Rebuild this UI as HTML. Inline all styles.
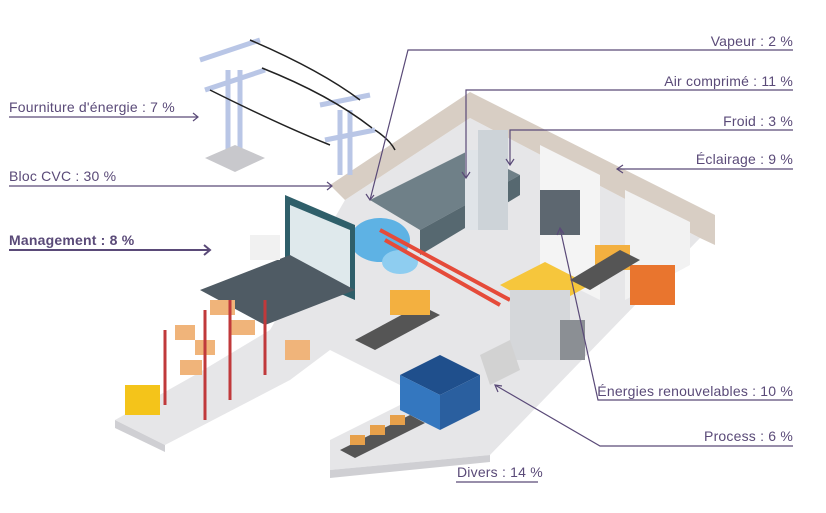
<!DOCTYPE html>
<html><head><meta charset="utf-8"><style>
html,body{margin:0;padding:0;background:#fff;width:826px;height:513px;overflow:hidden}
svg{position:absolute;left:0;top:0}
text{font-family:"Liberation Sans",sans-serif;font-size:14px;fill:#5a4a78;letter-spacing:0.2px}
</style></head><body>
<svg width="826" height="513" viewBox="0 0 826 513">
<polygon points="345,200 470,118 700,238 490,455 330,470 330,440 420,395 330,350 290,380 165,445 115,420 195,375 270,330" fill="#e6e6e8"/>
<polygon points="115,420 165,445 165,452 115,428" fill="#cfcfd3"/>
<polygon points="330,470 490,455 490,462 330,478" fill="#cfcfd3"/>
<polygon points="330,185 470,92 715,215 715,245 700,238 470,118 345,200" fill="#d8cec4"/>
<polygon points="540,145 600,175 600,300 540,270" fill="#f4f4f4"/>
<polygon points="625,190 690,222 690,265 625,300" fill="#f2f2f2"/>
<g stroke="#b9c6e6" stroke-width="5" fill="none">
<line x1="228" y1="70" x2="228" y2="155"/><line x1="240" y1="70" x2="240" y2="155"/>
<line x1="200" y1="60" x2="260" y2="40"/><line x1="205" y1="90" x2="265" y2="70"/>
<line x1="340" y1="110" x2="340" y2="175"/><line x1="350" y1="110" x2="350" y2="175"/>
<line x1="320" y1="105" x2="370" y2="95"/><line x1="325" y1="140" x2="375" y2="130"/>
</g>
<polygon points="205,158 235,145 265,158 235,172" fill="#c8c8cc"/>
<g stroke="#222" stroke-width="1.5" fill="none">
<path d="M250,40 Q320,70 360,100"/><path d="M262,68 Q330,95 372,128"/><path d="M210,90 Q280,125 330,145"/><path d="M375,130 Q390,140 395,150"/>
</g>
<polygon points="370,200 470,150 520,175 420,230" fill="#6f8088"/>
<polygon points="420,230 520,175 520,195 420,255" fill="#566870"/>
<rect x="465" y="150" width="40" height="80" fill="#e0e4e8"/>
<rect x="478" y="130" width="30" height="100" fill="#cdd3d8"/>
<ellipse cx="380" cy="240" rx="30" ry="22" fill="#5eb2e4"/>
<ellipse cx="400" cy="262" rx="18" ry="12" fill="#8ecdf0"/>
<path d="M380,230 L510,300 M385,240 L500,305" stroke="#e54b3a" stroke-width="4"/>
<polygon points="285,195 355,225 355,300 285,270" fill="#2f5f6a"/>
<polygon points="290,205 350,230 350,292 290,266" fill="#dfe9ec"/>
<polygon points="200,290 290,255 355,290 265,325" fill="#4f5b64"/>
<rect x="250" y="235" width="30" height="25" fill="#f1f1f1"/>
<g fill="#f0b47a"><rect x="175" y="325" width="20" height="15"/><rect x="195" y="340" width="20" height="15"/><rect x="180" y="360" width="22" height="15"/><rect x="210" y="300" width="25" height="15"/><rect x="230" y="320" width="25" height="15"/><rect x="285" y="340" width="25" height="20"/></g>
<g stroke="#c0393b" stroke-width="3"><line x1="165" y1="330" x2="165" y2="405"/><line x1="205" y1="310" x2="205" y2="420"/><line x1="230" y1="300" x2="230" y2="400"/><line x1="265" y1="300" x2="265" y2="375"/></g>
<rect x="125" y="385" width="35" height="30" fill="#f4c41a"/>
<polygon points="500,285 545,262 590,285 545,310" fill="#f6c63c"/>
<rect x="510" y="290" width="60" height="70" fill="#d5d7da"/>
<rect x="560" y="320" width="25" height="40" fill="#8b8f94"/>
<polygon points="400,375 440,355 480,375 440,395" fill="#1f4f8c"/>
<polygon points="400,375 440,395 440,430 400,410" fill="#3477bf"/>
<polygon points="440,395 480,375 480,410 440,430" fill="#2a5f9f"/>
<polygon points="340,450 410,415 425,423 355,458" fill="#555"/>
<g fill="#e7a04a"><rect x="350" y="435" width="15" height="10"/><rect x="370" y="425" width="15" height="10"/><rect x="390" y="415" width="15" height="10"/></g>
<polygon points="355,340 420,305 440,315 375,350" fill="#555"/>
<g fill="#f3b040"><rect x="390" y="290" width="40" height="25"/><rect x="595" y="245" width="35" height="25"/></g>
<g fill="#e9752e"><rect x="630" y="265" width="45" height="40"/></g>
<polygon points="570,280 620,250 640,260 590,290" fill="#555"/>
<rect x="540" y="190" width="40" height="45" fill="#5d6770"/>
<polygon points="480,355 510,340 520,370 490,385" fill="#d2d2d2"/>
<g stroke="#5a4a78" stroke-width="1.2" fill="none">
<line x1="9" y1="117" x2="198" y2="117"/><polyline points="193,113 198,117 193,121"/>
<line x1="9" y1="186" x2="332" y2="186"/><polyline points="327,182 332,186 327,190"/>
<line x1="9" y1="250" x2="210" y2="250" stroke-width="2"/><polyline points="204,245 210,250 204,255" stroke-width="2"/>
<polyline points="793,50 408,50 370,200"/><polyline points="366,194 370,200 374,195"/>
<polyline points="793,90 466,90 466,178"/><polyline points="462,172 466,178 470,172"/>
<polyline points="793,130 510,130 510,165"/><polyline points="506,159 510,165 514,159"/>
<line x1="617" y1="169" x2="793" y2="169"/><polyline points="623,165 617,169 623,173"/>
<polyline points="793,400 598,400 560,228"/><polyline points="557,235 560,228 564,234"/>
<polyline points="793,446 600,446 495,385"/><polyline points="498,392 495,385 502,386"/>
<line x1="456" y1="482" x2="538" y2="482"/>
</g>
<text x="9" y="112">Fourniture d'énergie : 7 %</text>
<text x="9" y="181">Bloc CVC : 30 %</text>
<text x="9" y="245" style="font-weight:bold">Management : 8 %</text>
<text x="793" y="46" text-anchor="end">Vapeur : 2 %</text>
<text x="793" y="86" text-anchor="end">Air comprimé : 11 %</text>
<text x="793" y="126" text-anchor="end">Froid : 3 %</text>
<text x="793" y="164" text-anchor="end">Éclairage : 9 %</text>
<text x="793" y="396" text-anchor="end">Énergies renouvelables : 10 %</text>
<text x="793" y="441" text-anchor="end">Process : 6 %</text>
<text x="457" y="477">Divers : 14 %</text>
</svg>
</body></html>
